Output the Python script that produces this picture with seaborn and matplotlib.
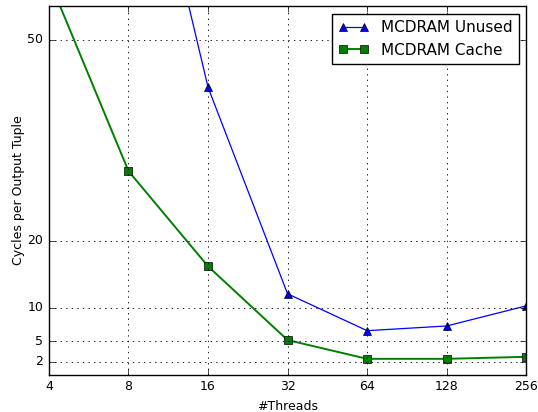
import matplotlib
matplotlib.use("Agg")
import matplotlib.pyplot as plt
import matplotlib.ticker as mticker
import seaborn as sns
import pandas as pd

threads_unused = [8, 16, 32, 64, 128, 256]
cycles_unused = [93.0, 42.9, 12.1, 6.6, 7.3, 10.3]
threads_cache = [4, 8, 16, 32, 64, 128, 256]
cycles_cache = [59.0, 30.4, 16.2, 5.2, 2.4, 2.4, 2.7]
x_ticks = [4, 8, 16, 32, 64, 128, 256]
y_ticks = [2, 5, 10, 20, 50]

plt.style.use("classic")
plt.rcParams["font.family"] = ["DejaVu Sans"]

fig = plt.figure(figsize=(5.38, 4.12), dpi=100)
ax = fig.add_axes([0.091, 0.090, 0.887, 0.895])

df_u = pd.DataFrame({"threads": threads_unused, "cycles": cycles_unused})
df_c = pd.DataFrame({"threads": threads_cache, "cycles": cycles_cache})

sns.lineplot(data=df_u, x="threads", y="cycles", ax=ax, color="b", marker="^",
             markersize=6, markeredgecolor="k", markeredgewidth=0.5, linewidth=0.9,
             label="MCDRAM Unused", estimator=None)
sns.lineplot(data=df_c, x="threads", y="cycles", ax=ax, color="g", marker="s",
             markersize=6, markeredgecolor="k", markeredgewidth=0.5, linewidth=1.4,
             label="MCDRAM Cache", estimator=None)

ax.set_xscale("log", base=2)
ax.set_xlim(4, 256)
ax.set_ylim(0, 55)
ax.xaxis.set_major_locator(mticker.FixedLocator(x_ticks))
ax.xaxis.set_major_formatter(mticker.FixedFormatter([str(t) for t in x_ticks]))
ax.xaxis.set_minor_locator(mticker.NullLocator())
ax.set_yticks(y_ticks)
ax.yaxis.set_minor_locator(mticker.NullLocator())
ax.tick_params(labelsize=9)
ax.grid(True, linestyle=":", color="k", linewidth=0.6)
ax.set_xlabel("#Threads", fontsize=9)
ax.set_ylabel("Cycles per Output Tuple", fontsize=9, labelpad=2)

leg = ax.legend(loc="upper right", fontsize=11, numpoints=2, fancybox=False,
                handlelength=2.0, borderaxespad=0.5)
leg.get_frame().set_edgecolor("k")

fig.savefig("out.png", dpi=100)
